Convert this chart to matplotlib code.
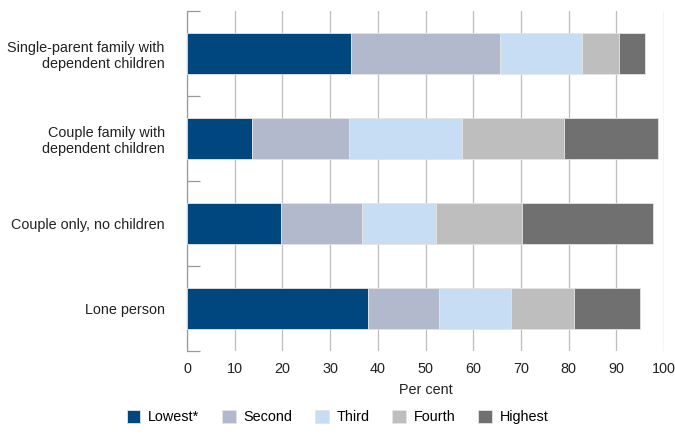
import matplotlib.pyplot as plt
import numpy as np
from matplotlib.ticker import FixedLocator

plt.rcParams['font.family'] = ['Liberation Sans', 'DejaVu Sans']

# categories, top to bottom
categories = ['Single-parent family with\ndependent children',
              'Couple family with\ndependent children',
              'Couple only, no children',
              'Lone person']
quintiles = ['Lowest*', 'Second', 'Third', 'Fourth', 'Highest']

# per cent in each income quintile
lowest = [34.3, 13.7, 19.7, 37.9]
second = [31.3, 20.2, 16.9, 15.0]
third = [17.2, 23.7, 15.6, 15.1]
fourth = [7.8, 21.4, 17.9, 13.0]
highest = [5.4, 19.8, 27.5, 14.0]

colors = ['#00467f', '#b2b9cc', '#c7ddf3', '#bebebe', '#717071']
fs = 10.4

fig = plt.figure(figsize=(6.75, 4.44), dpi=100)
ax = fig.add_axes([0.277, 0.2095, 0.707, 0.7655])

y = np.arange(len(categories))
left = np.zeros(len(categories))
for name, vals, col in zip(quintiles, [lowest, second, third, fourth, highest], colors):
    ax.barh(y, vals, left=left, height=0.49, color=col, label=name,
            edgecolor='#e4e4e4', linewidth=0.6, zorder=3)
    left += np.array(vals)

ax.set_xlim(0, 100)
ax.set_ylim(len(categories) - 0.5, -0.5)
ax.set_xticks(np.arange(0, 101, 10))
ax.set_yticks(y)
ax.set_yticklabels(categories, fontsize=fs)
ax.yaxis.set_minor_locator(FixedLocator(np.arange(-0.5, len(categories), 1.0)))
ax.tick_params(axis='y', which='major', length=0, pad=16, colors='#222222')
ax.tick_params(axis='y', which='minor', direction='in', length=9, color='#999999', width=0.9)
ax.tick_params(axis='x', length=0, pad=8, labelsize=fs, colors='#222222')

ax.grid(axis='x', color='#bdbdbd', linewidth=0.9, zorder=0)
for s in ['top', 'right', 'bottom']:
    ax.spines[s].set_visible(False)
ax.spines['left'].set_color('#999999')
ax.spines['left'].set_linewidth(0.9)

ax.set_xlabel('Per cent', fontsize=fs, labelpad=5, color='#222222')

fig.legend(loc='center', bbox_to_anchor=(0.5, 0.06), ncol=5, frameon=False,
           fontsize=fs, handlelength=0.95, handleheight=0.95, columnspacing=1.55,
           handletextpad=0.55)

fig.savefig('out.png', dpi=100)
